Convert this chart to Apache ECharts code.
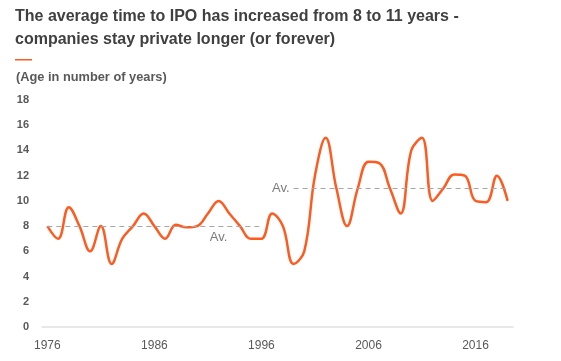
<!DOCTYPE html>
<html>
<head>
<meta charset="utf-8">
<script src="https://cdn.jsdelivr.net/npm/echarts@6/dist/echarts.min.js"></script>
<style>html,body{margin:0;padding:0;background:#fff;}#c{width:561px;height:361px;}</style>
</head>
<body>
<div id="c"></div>
<script>
const years = [];
for (let y = 1976; y <= 2019; y++) years.push(String(y));
const ageValues = [8, 7, 9.5, 8, 6, 8, 5, 7, 8, 9, 8, 7, 8.1, 7.9, 8, 9, 10, 9, 8, 7, 7,
  9, 8, 5, 6, 12, 15, 11, 8, 11, 13.1, 13, 11, 9, 14, 15, 10, 11, 12.1, 12, 10, 9.9, 12, 10];
const yTicks = [0, 2, 4, 6, 8, 10, 12, 14, 16, 18];
const avgPeriods = [
  { from: '1976', to: '1996', value: 8, label: 'Av.', labelAt: '1992' },
  { from: '1999', to: '2019', value: 11, label: 'Av.', labelAt: '1999' }
];
const titleText = 'The average time to IPO has increased from 8 to 11 years -\ncompanies stay private longer (or forever)';
const subtitleText = '(Age in number of years)';

const chart = echarts.init(document.getElementById('c'), null, { renderer: 'canvas' });
const font = 'Liberation Sans, Arial, sans-serif';
chart.setOption({
  animation: false,
  backgroundColor: '#fff',
  title: [{
    text: titleText,
    left: 10, top: 0,
    textStyle: { fontFamily: font, fontSize: 16, fontWeight: 'bold', color: '#404040', lineHeight: 23 }
  }, {
    text: subtitleText,
    left: 11, top: 66,
    textStyle: { fontFamily: font, fontSize: 12.8, fontWeight: 'bold', color: '#595959' }
  }],
  graphic: [{
    type: 'rect', left: 15, top: 59, shape: { width: 17, height: 1.5 },
    style: { fill: '#FF5A1F' }
  }],
  grid: { left: 42, right: 48, top: 100, bottom: 34 },
  xAxis: {
    type: 'category', data: years, boundaryGap: true,
    axisLine: { lineStyle: { color: '#e0e0e0', width: 1.5 } },
    axisTick: { show: false },
    axisLabel: { interval: 9, color: '#595959', fontFamily: font, fontSize: 12, margin: 13 }
  },
  yAxis: {
    type: 'value', min: yTicks[0], max: yTicks[yTicks.length - 1], interval: 2,
    splitLine: { show: false }, axisLine: { show: false }, axisTick: { show: false },
    axisLabel: { color: '#595959', fontFamily: font, fontSize: 11, fontWeight: 'bold', margin: 13 }
  },
  series: [{
    type: 'line', data: ageValues, smooth: 0.4, symbol: 'none',
    lineStyle: { color: '#FF5A1F', width: 2.5 },
    markLine: {
      silent: true, symbol: 'none',
      lineStyle: { color: '#a6a6a6', type: [5, 4], width: 1 },
      label: { show: false },
      data: avgPeriods.map(p => [{ coord: [p.from, p.value] }, { coord: [p.to, p.value] }])
    }
  }, {
    type: 'scatter', symbolSize: 0, silent: true,
    data: [
      { value: [avgPeriods[0].labelAt, avgPeriods[0].value], label: { show: true, formatter: avgPeriods[0].label, position: 'bottom', distance: 5 } },
      { value: [avgPeriods[1].labelAt, avgPeriods[1].value], label: { show: true, formatter: avgPeriods[1].label, position: 'left', distance: 4 } }
    ],
    label: { color: '#595959', fontFamily: font, fontSize: 13 }
  }]
});
</script>
</body>
</html>
